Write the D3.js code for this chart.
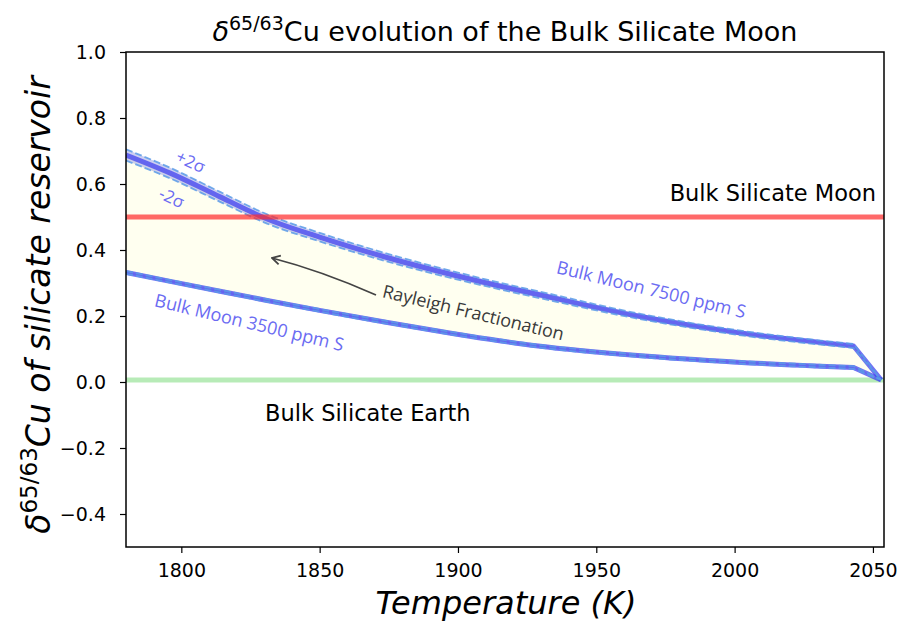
<!DOCTYPE html>
<html>
<head>
<meta charset="utf-8">
<script src="https://cdn.jsdelivr.net/npm/d3@7"></script>
<style>
  html, body { margin: 0; padding: 0; background: #fff; }
  svg { display: block; }
</style>
</head>
<body>
<svg id="chart" width="902" height="623"></svg>
<script>
// ---- data ----
const temps      = [1780, 1796, 1814, 1831, 1850, 1874, 1898, 1915, 1929, 1965, 2001, 2043, 2053];
const moon7500   = [0.688, 0.633, 0.561, 0.494, 0.439, 0.378, 0.325, 0.291, 0.265, 0.200, 0.150, 0.109, 0.006];
const moon7500Hi = [0.705, 0.649, 0.576, 0.508, 0.452, 0.390, 0.336, 0.301, 0.275, 0.208, 0.157, 0.115, 0.006];
const moon7500Lo = [0.671, 0.617, 0.546, 0.480, 0.426, 0.366, 0.314, 0.281, 0.255, 0.192, 0.143, 0.103, 0.006];
const moon3500   = [0.332, 0.305, 0.275, 0.247, 0.217, 0.181, 0.147, 0.125, 0.109, 0.080, 0.060, 0.044, 0.006];
const moon3500Hi = [0.336, 0.309, 0.279, 0.251, 0.221, 0.185, 0.151, 0.129, 0.113, 0.084, 0.064, 0.048, 0.006];
const moon3500Lo = [0.328, 0.301, 0.271, 0.243, 0.213, 0.177, 0.143, 0.121, 0.105, 0.076, 0.056, 0.040, 0.006];
const bsmValue = 0.5;
const bseValue = 0.006;
const xTicks = [1800, 1850, 1900, 1950, 2000, 2050];
const yTicks = [-0.4, -0.2, 0.0, 0.2, 0.4, 0.6, 0.8, 1.0];
const xDomain = [1780, 2054];
const yDomain = [-0.5, 1.0];

// ---- layout ----
const L = 126, R = 884, T = 52, B = 547;
const svg = d3.select("#chart");
const x = d3.scaleLinear().domain(xDomain).range([L, R]);
const y = d3.scaleLinear().domain(yDomain).range([B, T]);

const n = temps.length;
const pts = arr => temps.map((t, i) => [t, arr[i]]);

const defs = svg.append("defs");
defs.append("clipPath").attr("id", "clip")
  .append("rect").attr("x", L).attr("y", T).attr("width", R - L).attr("height", B - T);
defs.append("marker").attr("id", "arrow").attr("viewBox", "0 0 12 12")
  .attr("refX", 11).attr("refY", 6).attr("markerWidth", 12).attr("markerHeight", 12)
  .attr("orient", "auto").attr("markerUnits", "userSpaceOnUse")
  .append("path").attr("d", "M3,1.5 L11,6 L3,10.5").attr("fill", "none")
  .attr("stroke", "#444").attr("stroke-width", 1.8).attr("stroke-linejoin", "miter");

const g = svg.append("g").attr("clip-path", "url(#clip)");
const curve = d3.curveMonotoneX;

// smooth part (all but the last point) + straight final segment
const lineSmooth = d3.line().curve(curve).x(d => x(d[0])).y(d => y(d[1]));
function pathFor(arr) {
  const p = pts(arr);
  const last = p[n - 1];
  return lineSmooth(p.slice(0, n - 1)) + `L${x(last[0])},${y(last[1])}`;
}
function areaPaths(hi, lo, fill, opacity) {
  const data = temps.map((t, i) => ({ t, hi: hi[i], lo: lo[i] }));
  const ar = d3.area().x(d => x(d.t)).y0(d => y(d.lo)).y1(d => y(d.hi));
  g.append("path").datum(data.slice(0, n - 1)).attr("d", ar.curve(curve))
    .attr("fill", fill).attr("fill-opacity", opacity);
  g.append("path").datum(data.slice(n - 2)).attr("d", ar.curve(d3.curveLinear))
    .attr("fill", fill).attr("fill-opacity", opacity);
}

// fill between curves
areaPaths(moon7500, moon3500, "#fffff0", 1);

// Bulk Silicate Earth line
g.append("line").attr("x1", L).attr("x2", R).attr("y1", y(bseValue)).attr("y2", y(bseValue))
  .attr("stroke", "#90e090").attr("stroke-opacity", 0.65).attr("stroke-width", 5);

// ±2σ bands
areaPaths(moon7500Hi, moon7500Lo, "#8f95e0", 0.45);
areaPaths(moon3500Hi, moon3500Lo, "#8f95e0", 0.45);

function mainLine(arr) {
  g.append("path").attr("d", pathFor(arr))
    .attr("fill", "none").attr("stroke", "#3c3cf0").attr("stroke-opacity", 0.72)
    .attr("stroke-width", 5).attr("stroke-linejoin", "round");
}
function dashLine(arr) {
  g.append("path").attr("d", pathFor(arr))
    .attr("fill", "none").attr("stroke", "#5a9be8").attr("stroke-opacity", 0.85)
    .attr("stroke-width", 1.8).attr("stroke-dasharray", "7,3");
}
mainLine(moon7500); mainLine(moon3500);
dashLine(moon7500Hi); dashLine(moon7500Lo);
dashLine(moon3500Hi); dashLine(moon3500Lo);

// Bulk Silicate Moon line
g.append("line").attr("x1", L).attr("x2", R).attr("y1", y(bsmValue)).attr("y2", y(bsmValue))
  .attr("stroke", "#ff2a2a").attr("stroke-opacity", 0.7).attr("stroke-width", 5);

// ---- axes ----
const fmt = d => (d < 0 ? "\u2212" : "") + Math.abs(d).toFixed(1);
const xAxis = svg.append("g").attr("transform", `translate(0,${B})`)
  .call(d3.axisBottom(x).tickValues(xTicks).tickSize(6).tickPadding(6).tickFormat(d3.format("d")));
const yAxis = svg.append("g").attr("transform", `translate(${L},0)`)
  .call(d3.axisLeft(y).tickValues(yTicks).tickSize(6).tickPadding(14).tickFormat(fmt));
[xAxis, yAxis].forEach(a => {
  a.select(".domain").remove();
  a.selectAll(".tick line").attr("stroke", "#000").attr("stroke-width", 1.2);
  a.selectAll(".tick text").attr("font-family", "DejaVu Sans").attr("font-size", 19).attr("fill", "#000");
});
xAxis.selectAll(".tick text").attr("dy", "0.95em");

svg.append("rect").attr("x", L).attr("y", T).attr("width", R - L).attr("height", B - T)
  .attr("fill", "none").attr("stroke", "#000").attr("stroke-width", 1.5);

// ---- title & labels ----
const title = svg.append("text").attr("x", 505).attr("y", 41).attr("text-anchor", "middle")
  .attr("font-family", "DejaVu Sans").attr("font-size", 27).attr("fill", "#000");
title.append("tspan").attr("font-style", "italic").text("δ");
title.append("tspan").attr("font-size", 19).attr("dy", -11).text("65/63");
title.append("tspan").attr("dy", 11).text("Cu evolution of the Bulk Silicate Moon");

const yl = svg.append("text").attr("transform", "translate(50,305) rotate(-90)")
  .attr("text-anchor", "middle").attr("font-family", "DejaVu Sans").attr("font-size", 33).attr("fill", "#000");
yl.append("tspan").attr("font-style", "italic").text("δ");
yl.append("tspan").attr("font-size", 23).attr("dy", -13).text("65/63");
yl.append("tspan").attr("dy", 13).attr("font-style", "italic").text("Cu of silicate reservoir");

svg.append("text").attr("x", 506).attr("y", 614).attr("text-anchor", "middle")
  .attr("font-family", "DejaVu Sans").attr("font-size", 32).attr("font-style", "italic")
  .attr("fill", "#000").text("Temperature (K)");

svg.append("text").attr("x", 876).attr("y", 201).attr("text-anchor", "end")
  .attr("font-family", "DejaVu Sans").attr("font-size", 22.5).attr("fill", "#000").text("Bulk Silicate Moon");
svg.append("text").attr("x", 265).attr("y", 421)
  .attr("font-family", "DejaVu Sans").attr("font-size", 22.5).attr("fill", "#000").text("Bulk Silicate Earth");

function rlabel(txt, cx, cy, ang, size, color) {
  svg.append("text").attr("transform", `translate(${cx},${cy}) rotate(${ang})`)
    .attr("text-anchor", "middle").attr("dominant-baseline", "middle")
    .attr("font-family", "Open Sans").attr("font-size", size).attr("fill", color).text(txt);
}
rlabel("Bulk Moon 7500 ppm S", 651, 291, 13.5, 18, "#6b6bf2");
rlabel("Bulk Moon 3500 ppm S", 249, 324, 13.5, 18, "#6b6bf2");
rlabel("Rayleigh Fractionation", 473, 314, 13.5, 18, "#3a3a3a");
rlabel("+2σ", 190, 163, 25, 17, "#6b6bf2");
rlabel("-2σ", 171, 199, 25, 17, "#6b6bf2");

// arrow
svg.append("path").attr("d", "M376,295 Q322,271 272,258")
  .attr("fill", "none").attr("stroke", "#444").attr("stroke-width", 1.8)
  .attr("marker-end", "url(#arrow)");
</script>
</body>
</html>
